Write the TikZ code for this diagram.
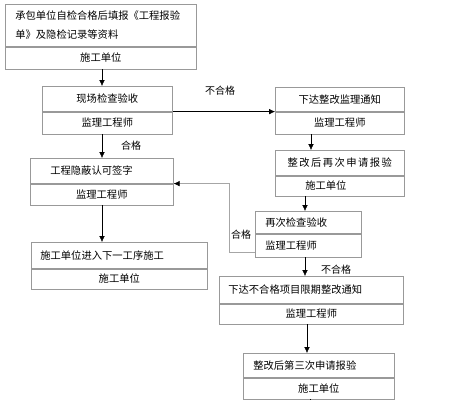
\documentclass[tikz,border=0pt]{standalone}
\usepackage{fontspec}
\newfontfamily\cjk{Noto Sans CJK SC}
\newfontfamily\cjkwide[LetterSpace=14]{Noto Sans CJK SC}
\usetikzlibrary{positioning,arrows.meta}

\begin{document}
\begin{tikzpicture}
[
  x=1pt,
  y=-1pt,
  part/.style={draw=gray!80,semithick,inner sep=0pt,font=\cjk\fontsize{10.3}{19}\selectfont},
  flow/.style={-{Latex[length=6pt,width=5.5pt]},thin,black},
  back/.style={-{Latex[length=6pt,width=5.5pt,black]},semithick,gray!70},
  lbl/.style={font=\cjk\fontsize{10}{12}\selectfont,inner sep=0pt}
]
\useasboundingbox (0,0) rectangle (455,400);

% Boxes (task on top, who does it below)
\node[part,anchor=north west,minimum height=42,inner xsep=10pt,text width=171,align=left] (p1) at (5,4)
  {承包单位自检合格后填报《工程报验\\单》及隐检记录等资料};
\node[part,below=0pt of p1,minimum width=191,minimum height=22] (r1) {施工单位};

\node[part,anchor=north west,minimum width=130,minimum height=25] (p2) at (42,86) {现场检查验收};
\node[part,below=0pt of p2,minimum width=130,minimum height=22] (r2) {监理工程师};

\node[part,anchor=north west,minimum width=129,minimum height=24] (p3) at (275,87) {下达整改监理通知};
\node[part,below=0pt of p3,minimum width=129,minimum height=22] (r3) {监理工程师};

\node[part,anchor=north west,minimum width=129,minimum height=25] (p4) at (275,150) {\cjkwide 整改后再次申请报验};
\node[part,below=0pt of p4,minimum height=20,inner xsep=30pt,text width=69,align=left] (r4) {施工单位};

\node[part,anchor=north west,minimum height=25,inner xsep=20pt,text width=103,align=left] (p5) at (30,158) {工程隐蔽认可签字};
\node[part,below=0pt of p5,minimum width=143,minimum height=21] (r5) {监理工程师};

\node[part,anchor=north west,minimum height=26,inner xsep=9pt,text width=158,align=left] (p6) at (31,242) {施工单位进入下一工序施工};
\node[part,below=0pt of p6,minimum width=176,minimum height=20] (r6) {施工单位};

\node[part,anchor=north west,minimum height=22,inner xsep=10pt,text width=86,align=left] (p7) at (255,211) {再次检查验收};
\node[part,below=0pt of p7,minimum height=23,inner xsep=10pt,text width=86,align=left] (r7) {监理工程师};

\node[part,anchor=north west,minimum height=27,inner xsep=9pt,text width=166,align=left] (p8) at (219,276) {下达不合格项目限期整改通知};
\node[part,below=0pt of p8,minimum width=184,minimum height=20] (r8) {监理工程师};

\node[part,anchor=north west,minimum height=24,inner xsep=10pt,text width=131,align=left] (p9) at (243,353) {整改后第三次申请报验};
\node[part,below=0pt of p9,minimum width=151,minimum height=21] (r9) {施工单位};

% Connectors
\coordinate (out) at (310,400);
\coordinate (turn) at (229,252);
\draw[flow] (r1.south -| 102,0) -- (p2.north -| 102,0);
\draw[flow] (r2.south -| 102,0) -- (p5.north -| 102,0);
\draw[flow] (r5.south -| 102,0) -- (p6.north -| 102,0);
\draw[flow] (p2.south east) -- (p3.south west);
\draw[flow] (r3.south -| 311,0) -- (p4.north -| 311,0);
\draw[flow] (r4.south -| 305,0) -- (p7.north -| 305,0);
\draw[flow] (r7.south -| 305,0) -- (p8.north -| 305,0);
\draw[flow] (r8.south -| 307,0) -- (p9.north -| 307,0);
\draw[thin] (r9.south -| out) -- (out);
\draw[back] (r7.west |- turn) -- (turn) |- (p5.south east);

% Labels
\node[lbl] (bhg1) at (220,91) {不合格};
\node[lbl] (hg1) at (131,146) {合格};
\node[lbl] (hg2) at (241,235) {合格};
\node[lbl] (bhg2) at (336,270) {不合格};

\end{tikzpicture}
\end{document}
